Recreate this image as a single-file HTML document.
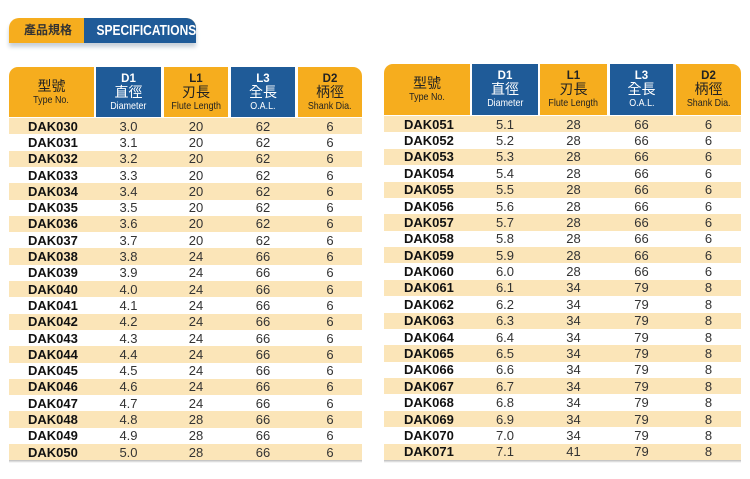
<!DOCTYPE html><html><head><style>
body{margin:0;width:750px;height:479px;background:#fff;font-family:"Liberation Sans","Noto Sans CJK TC",sans-serif;position:relative;overflow:hidden}
.a{position:absolute}
.hd{position:absolute;text-align:center;color:#222;font-size:10.5px;line-height:12px;display:flex;flex-direction:column;justify-content:center;align-items:center}
.o{background:#f6ad1e}.b{background:#1f5b98;color:#fff}
.hd b{font-size:11.5px}.hd .c{font-size:14px;line-height:15px}
.hd .e{display:inline-block;transform:scaleX(0.85);white-space:nowrap}
.row{position:absolute;height:16.35px;font-size:13px;color:#333;display:flex;align-items:center}
.row span{text-align:center}
.row span:first-child{font-weight:bold;text-align:left;color:#111}
</style></head><body>
<div class="a" style="left:9px;top:18px;width:187px;height:25px;border-radius:10px 10px 0 0;background:#f6ad1e;box-shadow:0 4px 4px #c8d0d8"></div>
<div class="a" style="left:84px;top:18px;width:112px;height:25px;border-radius:0 10px 0 0;background:#1f5b98;color:#fff;font-weight:bold;font-size:15px;line-height:25px;text-align:center"><span style="display:inline-block;transform:scaleX(0.8)">SPECIFICATIONS</span></div>
<div class="a" style="left:24px;top:18px;font-size:12px;line-height:25px;color:#333;font-weight:bold">產品規格</div>
<div id="t"></div>
<script>
function tbl(x0,top,cols,rowsStart,rh,data,tx){
 let h='';const hs=[['','型號','Type No.','o'],['D1','直徑','Diameter','b'],['L1','刃長','Flute Length','o'],['L3','全長','O.A.L.','b'],['D2','柄徑','Shank Dia.','o']];
 cols.forEach((c,i)=>{const r=i==0?'border-top-left-radius:9px;':i==4?'border-top-right-radius:9px;':'';
  h+=`<div class="hd ${hs[i][3]}" style="left:${c[0]}px;top:${top}px;width:${c[1]-c[0]}px;height:${rowsStart-top-1}px;${r}">${hs[i][0]?'<b>'+hs[i][0]+'</b>':''}<span class="c">${hs[i][1]}</span><span class="e">${hs[i][2]}</span></div>`;});
 data.forEach((d,k)=>{const y=rowsStart+k*rh;
  h+=`<div class="row" style="left:${cols[0][0]}px;top:${y}px;width:${cols[4][1]-cols[0][0]}px;background:${k%2==0?'#fbe5b8':'#fff'}">`;
  d.forEach((v,i)=>{h+= i==0?`<span style="position:absolute;left:${tx}px">${v}</span>`:`<span style="position:absolute;left:${cols[i][0]-cols[0][0]}px;width:${cols[i][1]-cols[i][0]}px">${v}</span>`});
  h+='</div>';});
 h+=`<div class="a" style="left:${cols[0][0]}px;top:${rowsStart+data.length*rh}px;width:${cols[4][1]-cols[0][0]}px;height:3px;background:linear-gradient(#bbb,#fff)"></div>`;
 return h;}
let L=[],R=[];
for(let i=30;i<=50;i++){let d=(i/10).toFixed(1);L.push(['DAK0'+i,d,i<38?20:i<48?24:28,i<38?62:66,6]);}
for(let i=51;i<=71;i++){let d=(i/10).toFixed(1);R.push(['DAK0'+i,d,i<61?28:i<71?34:41,i<61?66:79,i<61?6:8]);}
document.getElementById('t').innerHTML=
 tbl(9,67,[[9,94],[96,161],[164,228],[231,295],[298,362]],118,16.3,L,19)+
 tbl(384,64,[[384,470],[472,538],[540,607],[610,673],[676,741]],116,16.38,R,20);
</script>
</body></html>
